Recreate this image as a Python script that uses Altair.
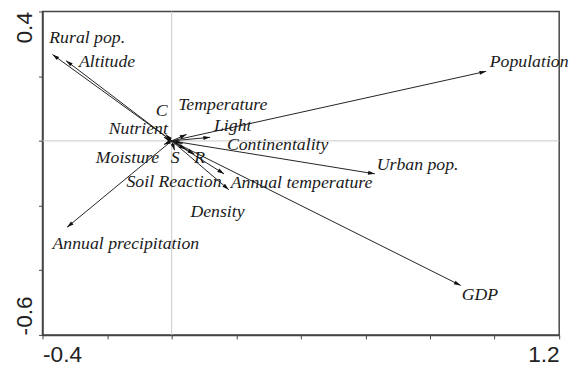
import math
import altair as alt
import pandas as pd

# Arrow (variable) names, arrow tips and label anchors (data units)
names = ["Rural pop.", "Altitude", "Population", "Urban pop.", "GDP",
         "Annual precipitation", "Annual temperature", "Density",
         "Light", "Temperature", "Continentality", "C", "Nutrient",
         "Moisture", "S", "R", "Soil Reaction"]
tip_x = [-0.369, -0.327, 0.974, 0.629, 0.895,
         -0.324, 0.162, 0.177,
         0.119, 0.046, 0.034, -0.018, -0.024,
         -0.024, 0.009, 0.070, 0.043]
tip_y = [0.267, 0.248, 0.215, -0.102, -0.447,
         -0.267, -0.102, -0.151,
         0.011, 0.020, -0.008, 0.020, 0.011,
         -0.011, -0.029, -0.041, -0.026]
label_x = [-0.379, -0.287, 0.985, 0.635, 0.898,
           -0.369, 0.183, 0.058,
           0.131, 0.020, 0.171, -0.049, -0.195,
           -0.235, -0.003, 0.070, -0.140]
label_y = [0.319, 0.245, 0.245, -0.075, -0.478,
           -0.319, -0.130, -0.221,
           0.045, 0.110, -0.012, 0.092, 0.036,
           -0.054, -0.054, -0.054, -0.128]

x_ticks = [-0.4, -0.2, 0.0, 0.2, 0.4, 0.6, 0.8, 1.0, 1.2]
y_ticks = [-0.6, -0.4, -0.2, 0.0, 0.2, 0.4]
x_tick_labels = ["-0.4", "", "", "", "", "", "", "", "1.2"]
y_tick_labels = ["-0.6", "", "", "", "", "0.4"]

PX_X = 524 / 1.6
PX_Y = 328 / 1.0
angles = [(math.degrees(math.atan2(x * PX_X, y * PX_Y)) + 360) % 360
          for x, y in zip(tip_x, tip_y)]

df = pd.DataFrame({
    "name": names, "x": tip_x, "y": tip_y,
    "x0": [0.0] * len(names), "y0": [0.0] * len(names),
    "lx": label_x, "ly": label_y, "ang": angles,
})

SERIF = "Times New Roman"
SANS = "Arial"

def label_expr(vals, labs):
    parts = [f"abs(datum.value - ({v})) < 0.01 ? '{l}'" for v, l in zip(vals, labs) if l]
    return " : ".join(parts) + " : ''"

xs = alt.Scale(domain=[-0.4, 1.2], nice=False, zero=False)
ys = alt.Scale(domain=[-0.6, 0.4], nice=False, zero=False)

xaxis = alt.Axis(values=x_ticks, title=None, grid=False,
                 labelExpr=label_expr(x_ticks, x_tick_labels),
                 labelFlush=True, labelFont=SANS, labelFontSize=23,
                 labelColor="#222", tickSize=4, tickColor="#444",
                 domainColor="#444", domainWidth=1.5, labelPadding=5)
yaxis = alt.Axis(values=y_ticks, title=None, grid=False,
                 labelExpr=label_expr(y_ticks, y_tick_labels),
                 labelAngle=270,
                 labelAlign=alt.ExprRef("datum.value > 0 ? 'right' : 'left'"),
                 labelBaseline="bottom",
                 labelFont=SANS, labelFontSize=23,
                 labelColor="#222", tickSize=4, tickColor="#444",
                 domainColor="#444", domainWidth=1.5, labelPadding=2)

base = alt.Chart(df)

vline = alt.Chart(pd.DataFrame({"v": [0.0]})).mark_rule(color="#c8c8c8", strokeWidth=1).encode(
    x=alt.X("v:Q", scale=xs, axis=xaxis))
hline = alt.Chart(pd.DataFrame({"v": [0.0]})).mark_rule(color="#c8c8c8", strokeWidth=1).encode(
    y=alt.Y("v:Q", scale=ys, axis=yaxis))

shafts = base.mark_rule(color="#222", strokeWidth=1).encode(
    x=alt.X("x0:Q", scale=xs), y=alt.Y("y0:Q", scale=ys),
    x2="x:Q", y2="y:Q")

heads = base.mark_point(shape="M0,0L-0.35,1.2L0.35,1.2Z", filled=True, color="#111",
                        opacity=1, size=130).encode(
    x=alt.X("x:Q", scale=xs), y=alt.Y("y:Q", scale=ys),
    angle=alt.Angle("ang:Q", scale=None))

labels = base.mark_text(align="left", baseline="middle", font=SERIF,
                        fontStyle="italic", fontSize=18, color="#1a1a1a").encode(
    x=alt.X("lx:Q", scale=xs), y=alt.Y("ly:Q", scale=ys), text="name:N")

chart = alt.layer(vline, hline, shafts, heads, labels).properties(
    width=524, height=328,
    autosize=alt.AutoSizeParams(type="none"),
    padding={"left": 35, "top": 1, "right": 13, "bottom": 32},
    background="white",
).configure_view(stroke="#444", strokeWidth=1.5)

chart.save("out.html", embed_options={"renderer": "svg", "actions": False})
